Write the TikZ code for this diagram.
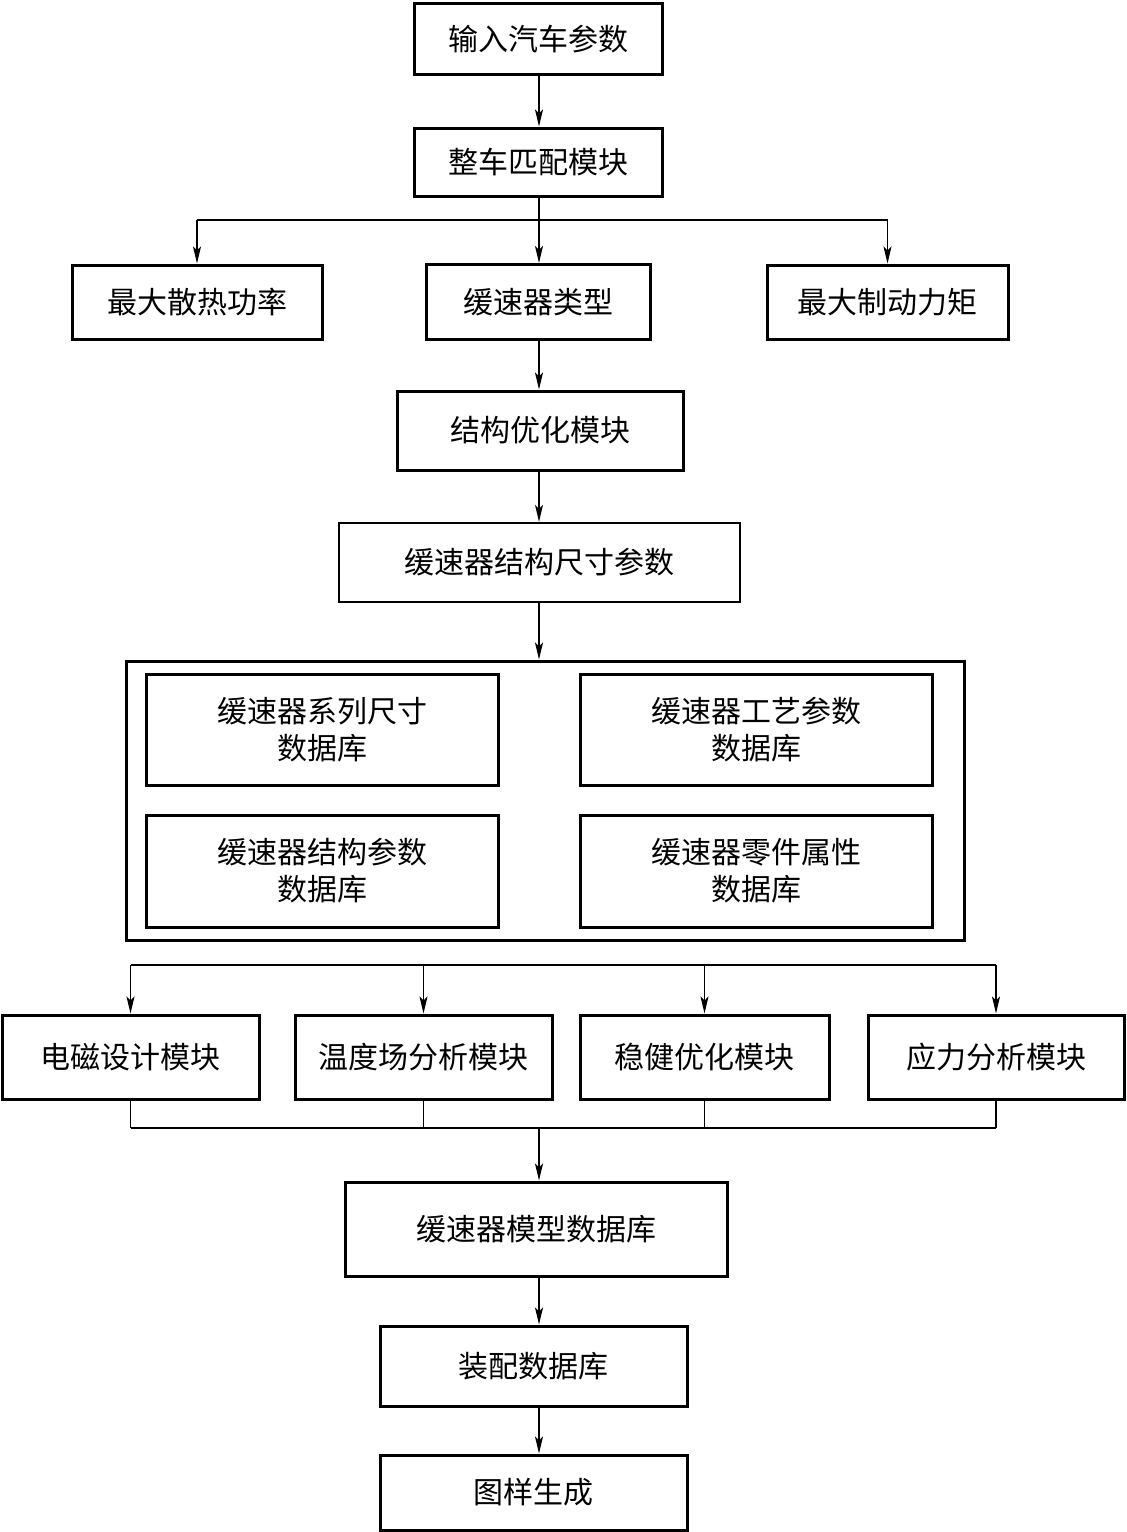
\documentclass[tikz,border=0pt]{standalone}
\usepackage{fontspec}
\newfontfamily\cjk{Noto Sans CJK SC}
\usetikzlibrary{arrows.meta,calc}
\begin{document}
\begin{tikzpicture}[x=1pt,y=-1pt,
  box/.style={draw,line width=3pt,rectangle,inner sep=0pt,align=center,
    font=\cjk\fontsize{30}{37}\selectfont},
  thinbox/.style={box,line width=2.4pt},
  arr/.style={line width=1.3pt,-{Stealth[length=17pt,width=8pt,inset=4pt]}},
  wire/.style={line width=1.3pt},
  bus/.style={line width=2.2pt}]
\useasboundingbox (0,0) rectangle (1127,1532);
\fill[white] (0,0) rectangle (1127,1532);
\coordinate (mx) at (539,0);

\node[box,minimum width=248pt,minimum height=71pt] (b1) at (538,39) {输入汽车参数};
\node[box,minimum width=248pt,minimum height=68pt] (b2) at (538,162) {整车匹配模块};
\node[box,minimum width=250pt,minimum height=74pt] (b3) at (197,302) {最大散热功率};
\node[box,minimum width=224pt,minimum height=75pt] (b4) at (538,302) {缓速器类型};
\node[box,minimum width=241pt,minimum height=74pt] (b5) at (887.5,302) {最大制动力矩};
\node[box,minimum width=286pt,minimum height=79pt] (b6) at (540,430.5) {结构优化模块};
\node[thinbox,minimum width=401pt,minimum height=79pt] (b7) at (539.5,562.5) {缓速器结构尺寸参数};

\node[draw,line width=3pt,minimum width=838pt,minimum height=279pt,inner sep=0pt] (outer) at (545,800.5) {};
\node[box,minimum width=352pt,minimum height=111pt] (i1) at (322,729.5) {缓速器系列尺寸\\数据库};
\node[box,minimum width=352pt,minimum height=111pt] (i2) at (756,729.5) {缓速器工艺参数\\数据库};
\node[box,minimum width=352pt,minimum height=112pt] (i3) at (322,871) {缓速器结构参数\\数据库};
\node[box,minimum width=352pt,minimum height=112pt] (i4) at (756,871) {缓速器零件属性\\数据库};

\node[box,minimum width=257pt,minimum height=84pt] (m1) at (130.5,1057) {电磁设计模块};
\node[box,minimum width=257pt,minimum height=84pt] (m2) at (423.5,1057) {温度场分析模块};
\node[box,minimum width=249pt,minimum height=84pt] (m3) at (704.5,1057) {稳健优化模块};
\node[box,minimum width=256pt,minimum height=84pt] (m4) at (996,1057) {应力分析模块};

\node[box,minimum width=382pt,minimum height=94pt] (b8) at (536,1229) {缓速器模型数据库};
\node[box,minimum width=307pt,minimum height=80pt] (b9) at (533.5,1366) {装配数据库};
\node[box,minimum width=307pt,minimum height=75pt] (b10) at (533.5,1492.5) {图样生成};

% connectors
\draw[arr] (b1.south -| mx) -- (b2.north -| mx);
\coordinate (s1) at (539,220);
\draw[wire] (b2.south -| mx) -- (s1);
\draw[bus] (b3.north |- s1) -- (b5.north |- s1);
\draw[arr] (b3.north |- s1) -- (b3.north);
\draw[arr] (s1) -- (b4.north -| mx);
\draw[arr] (b5.north |- s1) -- (b5.north);
\draw[arr] (b4.south -| mx) -- (b6.north -| mx);
\draw[arr] (b6.south -| mx) -- (b7.north -| mx);
\draw[arr] (b7.south -| mx) -- (outer.north -| mx);

\coordinate (s2) at (539,965);
\draw[bus] (m1.north |- s2) -- (m4.north |- s2);
\draw[arr] (m1.north |- s2) -- (m1.north);
\draw[arr] (m2.north |- s2) -- (m2.north);
\draw[arr] (m3.north |- s2) -- (m3.north);
\draw[arr] (m4.north |- s2) -- (m4.north);

\coordinate (s3) at (539,1128);
\draw[wire] (m1.south) -- (m1.south |- s3);
\draw[wire] (m2.south) -- (m2.south |- s3);
\draw[wire] (m3.south) -- (m3.south |- s3);
\draw[wire] (m4.south) -- (m4.south |- s3);
\draw[bus] (m1.south |- s3) -- (m4.south |- s3);
\draw[arr] (s3) -- (b8.north -| mx);
\draw[arr] (b8.south -| mx) -- (b9.north -| mx);
\draw[arr] (b9.south -| mx) -- (b10.north -| mx);
\end{tikzpicture}
\end{document}
